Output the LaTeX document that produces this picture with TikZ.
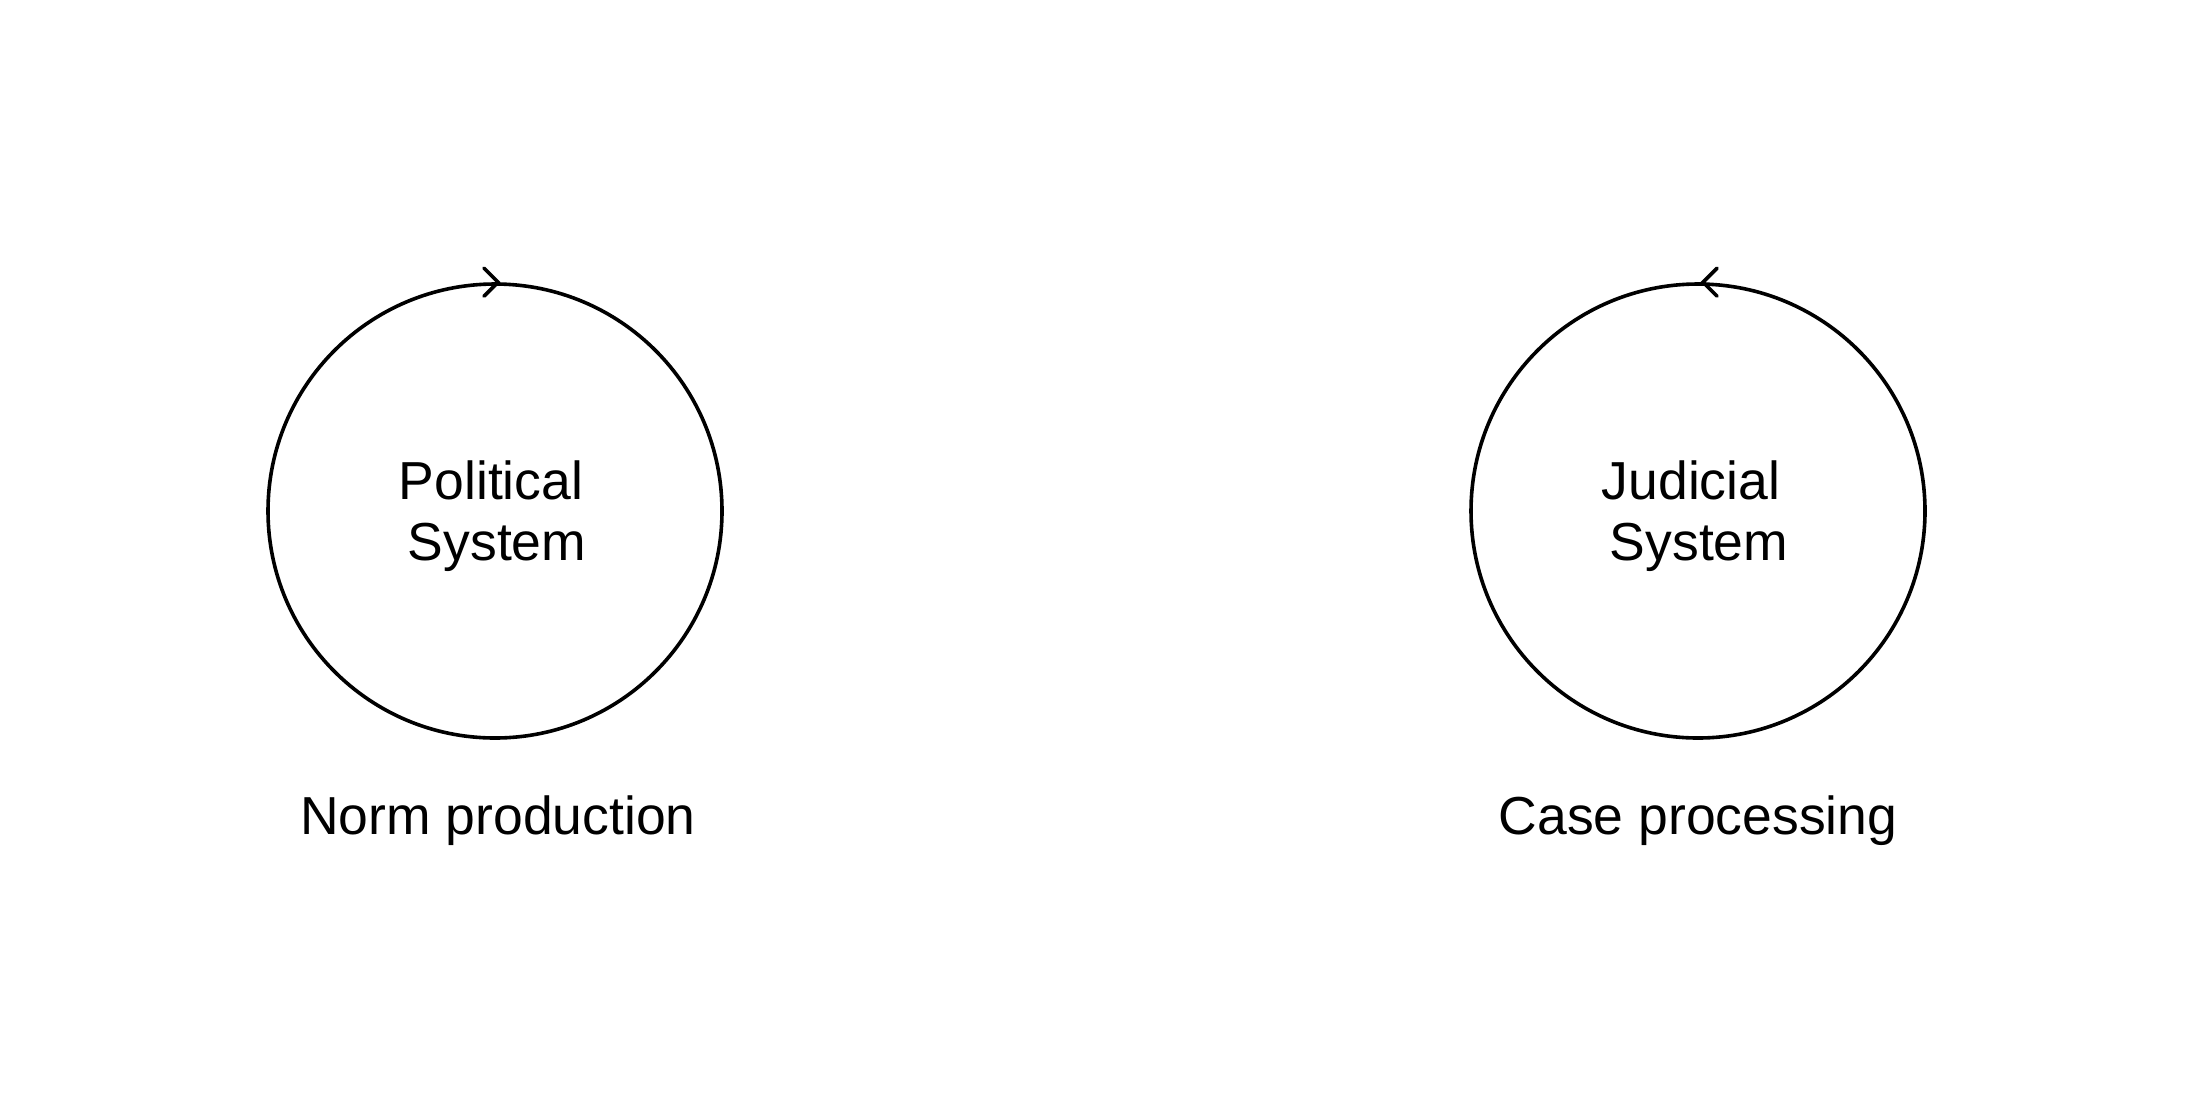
\documentclass[tikz,border=0pt]{standalone}
\usepackage{fontspec}
\setmainfont{Liberation Sans}
\begin{document}
\begin{tikzpicture}[x=1pt,y=-1pt,
  sys/.style={circle, draw, line width=3.6pt, minimum size=454pt, inner sep=0pt},
  chev/.style={line width=3.6pt, line cap=round, line join=miter},
  txt/.style={inner sep=0pt, align=center, font=\fontsize{53.5}{60.5}\selectfont},
  lbl/.style={inner sep=0pt, anchor=base, font=\fontsize{53.5}{60.5}\selectfont}]
\fill[white] (0,0) rectangle (2194,1112);
\useasboundingbox (0,0) rectangle (2194,1112);
\node[sys] (L) at (495,511) {};
\node[sys] (R) at (1698,511) {};
\node[txt, anchor=base] (Lt1) at (491,499.5) {Political};
\node[txt, anchor=base] (Lt2) at (497,560) {System};
\node[txt, anchor=base] (Rt1) at (1691,499.5) {Judicial};
\node[txt, anchor=base] (Rt2) at (1699,560) {System};
\draw[chev] ([xshift=3pt]L.north) ++(-14,-14) -- ++(14,14) -- ++(-14,14);
\draw[chev] ([xshift=5pt]R.north) ++(14,-14) -- ++(-14,14) -- ++(14,14);
\node[lbl] (Ln) at (498,834) {Norm production};
\node[lbl] (Rn) at (1698,834) {Case processing};
\end{tikzpicture}
\end{document}
